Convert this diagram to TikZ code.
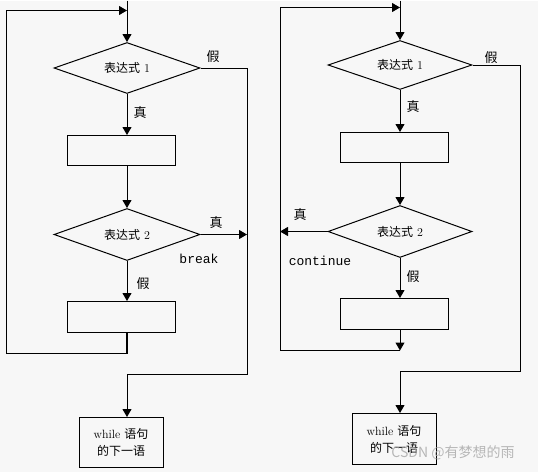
\documentclass[tikz,border=0pt]{standalone}
\usepackage{fontspec}
\newfontfamily\cjk{Noto Sans CJK SC}
\newfontfamily\codefont{Liberation Mono}
\usetikzlibrary{shapes.geometric,arrows.meta}

\tikzset{
  decision/.style={draw, diamond, aspect=2.8, inner sep=0pt,
    minimum width=146pt, minimum height=51pt, font=\fontsize{12}{14}\selectfont},
  block/.style={draw, rectangle, inner sep=0pt, minimum width=108pt, minimum height=30pt},
  exitbox/.style={draw, rectangle, inner sep=0pt, minimum width=84pt, minimum height=50pt,
    align=center, font=\fontsize{12}{17}\selectfont},
  lbl/.style={font=\cjk\fontsize{13}{13}\selectfont, inner sep=0pt},
  code/.style={font=\codefont\fontsize{13}{13}\selectfont, inner sep=0pt}
}

\begin{document}
\begin{tikzpicture}[x=1pt, y=-1pt, line width=1pt, >={Triangle[length=8pt,width=9pt]}]

    % Background
    \fill[black!3] (0,0) rectangle (538,471);

    %%%% Left chart (break)
    \node[decision] (condL) at (127,67.5) {{\cjk 表达式} 1};
    \node[block] (bodyL) at (121,150) {};
    \node[decision, minimum height=52pt] (testL) at (127,234) {{\cjk 表达式} 2};
    \node[block, minimum height=31pt] (restL) at (121,316.5) {};
    \node[exitbox] (nextL) at (121,442) {while {\cjk 语句}\\{\cjk 的下一语}};

    % Frame points
    \coordinate (topL) at (127,0);
    \coordinate (loopL) at (127,10);
    \coordinate (cornerL) at (6,353);
    \coordinate (outL) at (247,374);

    % Main flow
    \draw[->] (topL) -- (condL.north);
    \draw[->] (condL.south) -- (condL.south |- bodyL.north);
    \draw[->] (condL.south |- bodyL.south) -- (testL.north);
    \draw[->] (testL.south) -- (testL.south |- restL.north);

    % Back to the top
    \draw[line width=2.5pt] (testL.south |- restL.south) -- (testL.south |- cornerL);
    \draw[->] (testL.south |- cornerL) -- (cornerL) -- (cornerL |- loopL) -- (loopL);

    % Leaving the loop
    \draw[->] (condL.east) -| (outL) -- (outL -| topL) -- (topL |- nextL.north);
    \draw[->] (testL.east) -- (testL.east -| outL);

    % Labels
    \node[lbl] (noL) at (213,56) {假};
    \node[lbl] (yesL) at (140,112) {真};
    \node[lbl] (jumpL) at (216,222) {真};
    \node[code] (breakL) at (199,258) {break};
    \node[lbl] (elseL) at (143,283) {假};

    %%%% Right chart (continue)
    \node[decision, minimum width=144pt, minimum height=49pt] (condR) at (400,64.5) {{\cjk 表达式} 1};
    \node[block] (bodyR) at (394,147) {};
    \node[decision, minimum width=144pt, minimum height=52pt] (testR) at (400,231) {{\cjk 表达式} 2};
    \node[block, minimum height=31pt] (restR) at (394,313.5) {};
    \node[exitbox, minimum height=51pt] (nextR) at (394,438.5) {while {\cjk 语句}\\{\cjk 的下一语}};

    % Frame points
    \coordinate (topR) at (400,0);
    \coordinate (loopR) at (400,7);
    \coordinate (cornerR) at (280,350);
    \coordinate (outR) at (520,371);

    % Main flow
    \draw[->] (topR) -- (condR.north);
    \draw[->] (condR.south) -- (condR.south |- bodyR.north);
    \draw[->] (condR.south |- bodyR.south) -- (testR.north);
    \draw[->] (testR.south) -- (testR.south |- restR.north);

    % Back to the top
    \draw[->] (testR.south |- restR.south) -- (testR.south |- cornerR);
    \draw[->] (testR.south |- cornerR) -- (cornerR) -- (cornerR |- loopR) -- (loopR);
    \draw[->] (testR.west) -- (testR.west -| cornerR);

    % Leaving the loop
    \draw[->] (condR.east) -| (outR) -- (outR -| topR) -- (topR |- nextR.north);

    % Labels
    \node[lbl] (noR) at (491,57) {假};
    \node[lbl] (yesR) at (413,106) {真};
    \node[lbl] (jumpR) at (300,214) {真};
    \node[code] (contR) at (320,260) {continue};
    \node[lbl] (elseR) at (413,276) {假};

    % Watermark
    \node[font=\cjk\fontsize{14}{14}\selectfont, text=gray!70, text opacity=0.8, inner sep=0pt]
      (mark) at (453,452) {CSDN @有梦想的雨};

\end{tikzpicture}
\end{document}
